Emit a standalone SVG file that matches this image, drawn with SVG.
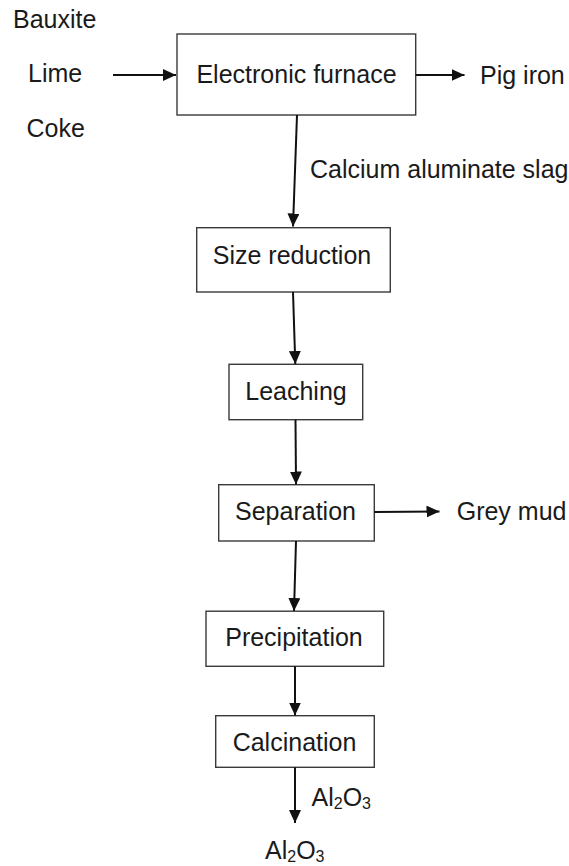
<svg xmlns="http://www.w3.org/2000/svg" width="569" height="866" viewBox="0 0 569 866">
  <style>
    text { font-family: "Liberation Sans", Arial, sans-serif; font-size: 25px; fill: #1a1a1a; }
    .box { fill: #ffffff; stroke: #3a3a3a; stroke-width: 1.4; }
    .conn { stroke: #111111; stroke-width: 2; fill: none; marker-end: url(#arrow); }
    .sub { font-size: 16px; }
  </style>
  <defs>
    <marker id="arrow" markerUnits="userSpaceOnUse" markerWidth="13" markerHeight="12" refX="13" refY="6" orient="auto">
      <path d="M0,0 L13,6 L0,12 Z" fill="#111111"/>
    </marker>
  </defs>
  <rect width="569" height="866" fill="#ffffff"/>

  <g id="inputs">
    <text x="13" y="27.5">Bauxite</text>
    <text x="28" y="82">Lime</text>
    <text x="26.5" y="137">Coke</text>
  </g>

  <g id="node-furnace">
    <rect class="box" x="177" y="34" width="238.7" height="81"/>
    <text x="296.5" y="83" text-anchor="middle">Electronic furnace</text>
  </g>

  <g id="node-pig-iron">
    <text x="480" y="83.5">Pig iron</text>
  </g>

  <g id="node-slag-label">
    <text x="310" y="177.5">Calcium aluminate slag</text>
  </g>

  <g id="node-size-reduction">
    <rect class="box" x="196.7" y="227.7" width="193.6" height="64.3"/>
    <text x="292" y="263.5" text-anchor="middle">Size reduction</text>
  </g>

  <g id="node-leaching">
    <rect class="box" x="229" y="364.3" width="133.7" height="55.4"/>
    <text x="296" y="400" text-anchor="middle">Leaching</text>
  </g>

  <g id="node-separation">
    <rect class="box" x="218.7" y="484.7" width="155.6" height="56.3"/>
    <text x="295.5" y="520" text-anchor="middle">Separation</text>
  </g>

  <g id="node-grey-mud">
    <text x="456.7" y="520">Grey mud</text>
  </g>

  <g id="node-precipitation">
    <rect class="box" x="206" y="611.2" width="177.7" height="55.1"/>
    <text x="294" y="645.5" text-anchor="middle">Precipitation</text>
  </g>

  <g id="node-calcination">
    <rect class="box" x="215.7" y="715.7" width="158.6" height="51.6"/>
    <text x="294.5" y="750.5" text-anchor="middle">Calcination</text>
  </g>

  <g id="node-al2o3-label">
    <text x="311.5" y="805.5">Al<tspan class="sub" dy="3">2</tspan><tspan dy="-3">O</tspan><tspan class="sub" dy="3">3</tspan></text>
  </g>

  <g id="node-al2o3-product">
    <text x="265" y="859">Al<tspan class="sub" dy="3">2</tspan><tspan dy="-3">O</tspan><tspan class="sub" dy="3">3</tspan></text>
  </g>

  <g id="connectors">
    <line class="conn" x1="113" y1="75" x2="176" y2="75"/>
    <line class="conn" x1="415.7" y1="75" x2="464.5" y2="75"/>
    <line class="conn" x1="297" y1="115" x2="293" y2="226.5"/>
    <line class="conn" x1="293" y1="292" x2="295.3" y2="364"/>
    <line class="conn" x1="295.5" y1="419.7" x2="296" y2="484.5"/>
    <line class="conn" x1="374.3" y1="512" x2="439.5" y2="511.5"/>
    <line class="conn" x1="296" y1="541" x2="294" y2="611"/>
    <line class="conn" x1="295" y1="666.3" x2="295" y2="715.5"/>
    <line class="conn" x1="295" y1="767.3" x2="295" y2="823"/>
  </g>
</svg>
